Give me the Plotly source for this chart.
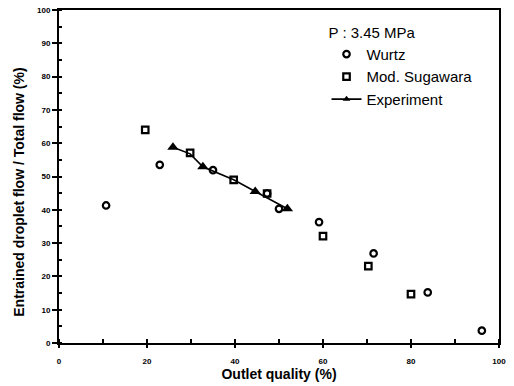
import plotly.graph_objects as go

wurtz_x = [10.7, 22.9, 35.0, 47.3, 50.0, 59.1, 71.5, 83.8, 96.1]
wurtz_y = [41.3, 53.5, 51.9, 44.9, 40.3, 36.3, 26.9, 15.2, 3.7]
suga_x = [19.6, 29.8, 39.7, 47.3, 60.0, 70.3, 80.0]
suga_y = [64.0, 57.1, 49.0, 44.9, 32.1, 23.1, 14.7]
exp_x = [25.9, 29.8, 32.7, 39.7, 44.6, 51.9]
exp_y = [58.8, 56.8, 52.9, 49.0, 45.5, 40.3]
exp_marker = [10, 0, 10, 0, 10, 10]

fig = go.Figure()
fig.add_trace(go.Scatter(x=wurtz_x, y=wurtz_y, mode="markers", name="Wurtz",
                         marker=dict(symbol="circle-open", size=6.5, color="black",
                                     line=dict(width=2.2, color="black"))))
fig.add_trace(go.Scatter(x=suga_x, y=suga_y, mode="markers", name="Mod. Sugawara",
                         marker=dict(symbol="square-open", size=6.5, color="black",
                                     line=dict(width=2.2, color="black"))))
fig.add_trace(go.Scatter(x=exp_x, y=exp_y, mode="lines+markers", name="Experiment",
                         line=dict(color="black", width=1.6),
                         marker=dict(symbol="triangle-up", size=exp_marker, color="black",
                                     opacity=1, line=dict(width=0))))

axis_common = dict(showline=True, linecolor="black", linewidth=2, mirror=True,
                   showgrid=False, zeroline=False, automargin=False,
                   tickfont=dict(family="Arial", size=8, color="black", weight="bold"),
                   tickwidth=1.5, tickcolor="black")

fig.update_xaxes(range=[0, 100], tick0=0, dtick=20, ticks="outside", ticklen=3,
                 ticklabelstandoff=6,
                 title=dict(text="Outlet quality (%)", standoff=5,
                            font=dict(family="Arial", size=14, color="black", weight="bold")),
                 minor=dict(dtick=10, ticks="inside", ticklen=4, tickcolor="black"),
                 **axis_common)
fig.update_yaxes(range=[0, 100], tick0=0, dtick=10, ticks="outside", ticklen=5,
                 title=dict(text="Entrained droplet flow / Total flow (%)" + "&nbsp;" * 8, standoff=9,
                            font=dict(family="Arial", size=14, color="black", weight="bold")),
                 minor=dict(dtick=5, ticks="inside", ticklen=3, tickcolor="black"),
                 **axis_common)

fig.update_layout(
    width=514, height=386,
    margin=dict(l=59, r=15, t=10, b=43),
    plot_bgcolor="white", paper_bgcolor="white",
    showlegend=True,
    legend=dict(x=0.608, y=0.975, xanchor="left", yanchor="top",
                bgcolor="rgba(0,0,0,0)",
                title=dict(text="P : 3.45 MPa", font=dict(family="Arial", size=15, color="black")),
                font=dict(family="Arial", size=15, color="black"),
                tracegroupgap=4),
)

fig.write_html("out.html")
